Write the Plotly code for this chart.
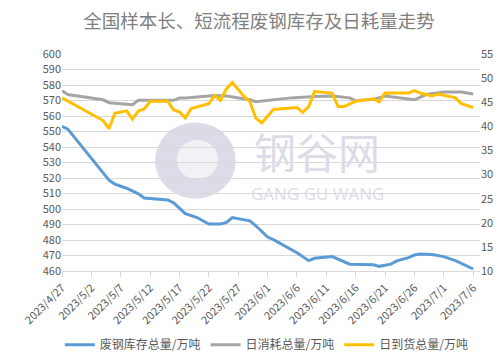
import plotly.graph_objects as go
import pandas as pd

title = "全国样本长、短流程废钢库存及日耗量走势"
names = ["废钢库存总量/万吨", "日消耗总量/万吨", "日到货总量/万吨"]

# 废钢库存总量 (left axis)
inv_dates = ["2023-04-27", "2023-04-28", "2023-05-05", "2023-05-06", "2023-05-08", "2023-05-10",
             "2023-05-11", "2023-05-15", "2023-05-16", "2023-05-18", "2023-05-20", "2023-05-22",
             "2023-05-24", "2023-05-25", "2023-05-26", "2023-05-29", "2023-05-30", "2023-06-01",
             "2023-06-02", "2023-06-06", "2023-06-08", "2023-06-09", "2023-06-12", "2023-06-15",
             "2023-06-19", "2023-06-20", "2023-06-22", "2023-06-23", "2023-06-25", "2023-06-26",
             "2023-06-27", "2023-06-29", "2023-07-01", "2023-07-03", "2023-07-06"]
inv_vals = [553.3, 551.5, 518.6, 516.1, 513.4, 509.8,
            507.1, 505.8, 504.0, 497.0, 494.5, 490.3,
            490.3, 491.3, 494.5, 492.4, 489.2, 481.9,
            480.2, 471.8, 466.7, 468.2, 469.3, 464.4,
            464.0, 463.0, 464.4, 466.5, 468.6, 470.3,
            470.9, 470.7, 469.3, 466.7, 461.3]

# 日消耗总量 (right axis)
con_dates = ["2023-04-27", "2023-04-28", "2023-05-04", "2023-05-05", "2023-05-09", "2023-05-10",
             "2023-05-16", "2023-05-17", "2023-05-18", "2023-05-23", "2023-05-25", "2023-05-29",
             "2023-05-30", "2023-06-01", "2023-06-05", "2023-06-09", "2023-06-12", "2023-06-15",
             "2023-06-16", "2023-06-19", "2023-06-21", "2023-06-26", "2023-06-28", "2023-07-01",
             "2023-07-04", "2023-07-06"]
con_vals = [47.4, 46.6, 45.5, 44.9, 44.5, 45.4,
            45.4, 45.9, 45.9, 46.4, 46.3, 45.5,
            45.1, 45.4, 45.9, 46.2, 46.3, 45.9,
            45.3, 45.6, 46.3, 45.5, 46.6, 47.1,
            47.1, 46.7]

# 日到货总量 (right axis)
arr_dates = ["2023-04-27", "2023-05-04", "2023-05-05", "2023-05-06", "2023-05-08", "2023-05-09",
             "2023-05-10", "2023-05-11", "2023-05-12", "2023-05-15", "2023-05-16", "2023-05-17",
             "2023-05-18", "2023-05-19", "2023-05-22", "2023-05-23", "2023-05-24", "2023-05-25",
             "2023-05-26", "2023-05-28", "2023-05-29", "2023-05-30", "2023-05-31", "2023-06-02",
             "2023-06-06", "2023-06-07", "2023-06-08", "2023-06-09", "2023-06-12", "2023-06-13",
             "2023-06-14", "2023-06-16", "2023-06-19", "2023-06-20", "2023-06-21", "2023-06-25",
             "2023-06-26", "2023-06-27", "2023-06-29", "2023-06-30", "2023-07-03", "2023-07-04",
             "2023-07-06"]
arr_vals = [45.9, 41.2, 39.5, 42.7, 43.2, 41.5,
            43.2, 43.6, 45.2, 45.2, 43.4, 43.0,
            41.7, 43.7, 44.7, 46.4, 45.4, 47.8,
            49.1, 46.2, 45.1, 41.7, 40.7, 43.5,
            43.9, 42.9, 44.1, 47.2, 46.9, 44.1,
            44.1, 45.2, 45.7, 45.1, 46.9, 46.9,
            47.4, 46.9, 46.3, 46.7, 45.9, 44.7,
            43.9]

tick_dates = pd.date_range("2023-04-27", "2023-07-06", freq="5D")
tick_text = [f"{d.year}/{d.month}/{d.day}" for d in tick_dates]

left_ticks = list(range(460, 601, 10))
right_ticks = list(range(10, 56, 5))

FONT = "Noto Sans CJK SC, Microsoft YaHei, sans-serif"
TXT = "#595959"
GRID = "#d9d9d9"
WM = "#dedbe9"

fig = go.Figure()
fig.add_trace(go.Scatter(x=inv_dates, y=inv_vals, name=names[0], mode="lines",
                         line=dict(color="#5b9bd5", width=3)))
fig.add_trace(go.Scatter(x=con_dates, y=con_vals, name=names[1], mode="lines", yaxis="y2",
                         line=dict(color="#a5a5a5", width=3)))
fig.add_trace(go.Scatter(x=arr_dates, y=arr_vals, name=names[2], mode="lines", yaxis="y2",
                         line=dict(color="#ffc000", width=3)))

# watermark
fig.add_shape(type="circle", xref="paper", yref="paper", layer="below",
              x0=(142 - 47.5) / 424.5, x1=(224 - 47.5) / 424.5,
              y0=(268 - 194) / 222, y1=(268 - 116) / 222,
              fillcolor=WM, line=dict(width=0))
fig.add_shape(type="circle", xref="paper", yref="paper", layer="below",
              x0=(164 - 47.5) / 424.5, x1=(206 - 47.5) / 424.5,
              y0=(268 - 174) / 222, y1=(268 - 134) / 222,
              fillcolor="#ffffff", line=dict(width=0), opacity=0.6)
fig.add_annotation(text="钢谷网", xref="paper", yref="paper",
                   x=(306 - 47.5) / 424.5, y=(268 - 145) / 222, showarrow=False,
                   yanchor="middle", font=dict(family=FONT, size=42, color=WM))
fig.add_annotation(text="GANG GU WANG", xref="paper", yref="paper",
                   x=(307 - 47.5) / 424.5, y=(268 - 189) / 222, showarrow=False,
                   yanchor="middle", font=dict(family="Open Sans, sans-serif", size=17, color=WM))

fig.update_layout(
    width=502, height=363,
    margin=dict(l=47, r=30, t=46, b=95),
    paper_bgcolor="white", plot_bgcolor="white",
    font=dict(family=FONT, color=TXT, size=11),
    title=dict(text=title, x=0.5, xanchor="center", y=0.962, yanchor="middle",
               font=dict(family=FONT, size=18.5, color="#7f7f7f")),
    showlegend=True,
    legend=dict(orientation="h", x=0.49, xanchor="center", y=-0.34, yanchor="middle",
                font=dict(size=12, color=TXT), itemwidth=30, traceorder="normal"),
    xaxis=dict(type="date", range=["2023-04-27", "2023-07-07 04:00"],
               tickmode="array", tickvals=tick_dates, ticktext=tick_text,
               tickangle=-45, ticks="outside", ticklen=5, tickcolor=GRID,
               showline=True, linecolor=GRID, showgrid=False, zeroline=False,
               tickfont=dict(size=11, color=TXT)),
    yaxis=dict(range=[460, 600], tickvals=left_ticks, showgrid=True, gridcolor=GRID,
               zeroline=False, showline=False, tickfont=dict(size=11, color=TXT)),
    yaxis2=dict(range=[10, 55], tickvals=right_ticks, overlaying="y", side="right",
                showgrid=False, zeroline=False, showline=False,
                tickfont=dict(size=11, color=TXT)),
)

fig.write_html("out.html")
